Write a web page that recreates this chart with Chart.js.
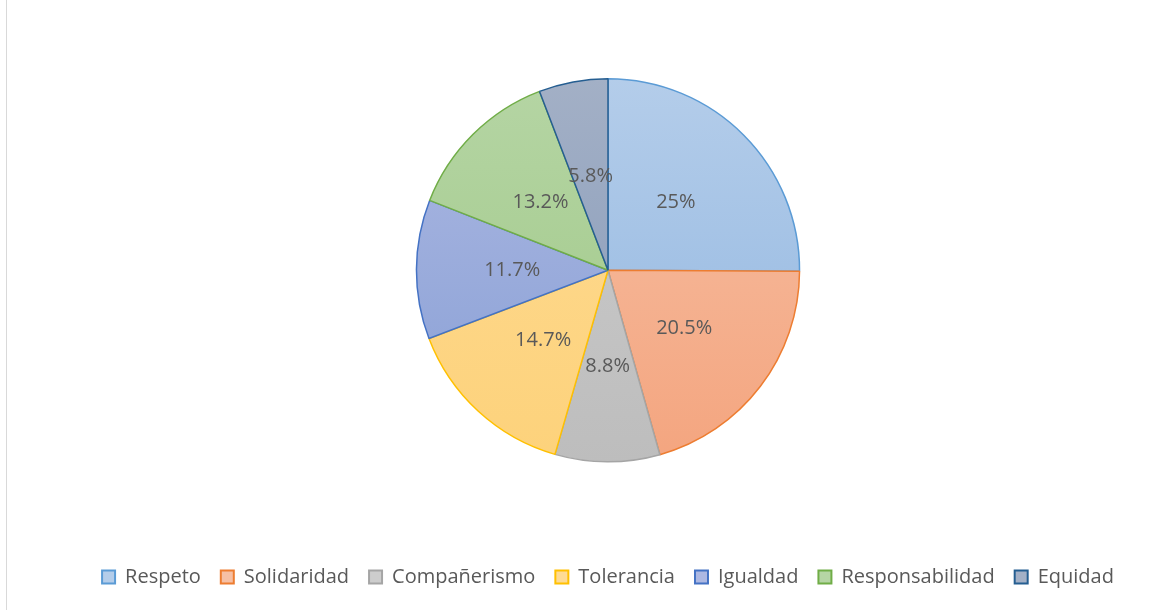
<!DOCTYPE html>
<html>
<head>
<meta charset="utf-8">
<script src="https://cdn.jsdelivr.net/npm/chart.js@4"></script>
<style>
  body { margin: 0; background: #fff; }
  #wrap { position: relative; width: 1172px; height: 610px; }
  #frame { position: absolute; left: 6px; top: 0; width: 1px; height: 610px; background: #d9d9d9; }
</style>
</head>
<body>
<div id="wrap">
  <canvas id="myChart" width="1172" height="610"></canvas>
  <div id="frame"></div>
</div>
<script>
var labels = ["Respeto", "Solidaridad", "Compañerismo", "Tolerancia", "Igualdad", "Responsabilidad", "Equidad"];
var values = [25, 20.5, 8.8, 14.7, 11.7, 13.2, 5.8];
var topColors = ["#b4cdea", "#f6c0a5", "#cdcdcd", "#fedb94", "#adb8e2", "#b5d5a4", "#a3b0c6"];
var bottomColors = ["#91b6e0", "#f4a57f", "#bdbdbd", "#fdd27b", "#879fd5", "#9fc886", "#8599b8"];
var borderColors = ["#5b9bd5", "#ed7d31", "#a5a5a5", "#ffc000", "#4472c4", "#70ad47", "#255e91"];

function sliceFill(ctx) {
  var chart = ctx.chart;
  var area = chart.chartArea;
  if (!area) return topColors[ctx.dataIndex];
  var g = chart.ctx.createLinearGradient(0, area.top, 0, area.bottom);
  g.addColorStop(0, topColors[ctx.dataIndex]);
  g.addColorStop(1, bottomColors[ctx.dataIndex]);
  return g;
}

var sliceLabels = {
  id: 'sliceLabels',
  afterDatasetsDraw: function(chart) {
    var c = chart.ctx;
    var meta = chart.getDatasetMeta(0);
    c.save();
    c.font = '20px "Open Sans", sans-serif';
    c.fillStyle = '#595959';
    c.textAlign = 'center';
    c.textBaseline = 'middle';
    meta.data.forEach(function(arc, i) {
      var p = arc.tooltipPosition();
      c.fillText(values[i] + '%', p.x, p.y);
    });
    c.restore();
  }
};

new Chart(document.getElementById("myChart"), {
  type: 'pie',
  data: {
    labels: labels,
    datasets: [{
      data: values,
      backgroundColor: sliceFill,
      borderColor: borderColors,
      borderWidth: 1.5
    }]
  },
  options: {
    responsive: false,
    animation: false,
    layout: { padding: { top: 78, left: 44, right: 0, bottom: 13 } },
    plugins: {
      tooltip: { enabled: false },
      legend: {
        position: 'bottom',
        title: { display: true, text: ' ', padding: { top: 70, bottom: 0 } },
        labels: {
          boxWidth: 13,
          boxHeight: 13,
          padding: 20,
          color: '#595959',
          font: { family: '"Open Sans", sans-serif', size: 20 },
          generateLabels: function(chart) {
            return labels.map(function(l, i) {
              return {
                text: l,
                fillStyle: topColors[i],
                strokeStyle: borderColors[i],
                lineWidth: 2,
                index: i,
                fontColor: '#595959'
              };
            });
          }
        }
      }
    }
  },
  plugins: [sliceLabels]
});
</script>
</body>
</html>
